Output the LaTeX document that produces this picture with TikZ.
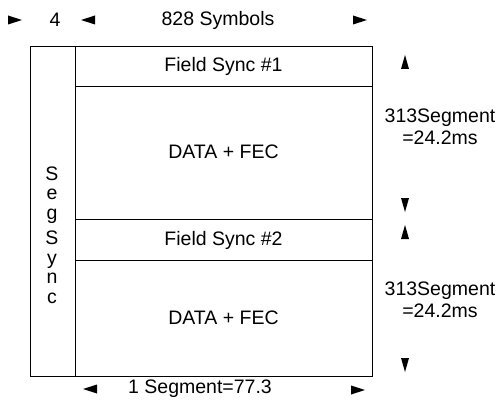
\documentclass[tikz,border=0pt]{standalone}
\usepackage{fontspec}
\setmainfont{Liberation Sans}
\begin{document}
\begin{tikzpicture}[x=1pt,y=-1pt,
  lbl/.style={inner sep=0pt,font=\fontsize{19.5}{22}\selectfont},
  frame/.style={line width=0.9pt},
  rtri/.pic={\fill (-7,-4.5) -- (7,0) -- (-7,4.5) -- cycle;},
  ltri/.pic={\fill (7,-4.5) -- (-7,0) -- (7,4.5) -- cycle;},
  utri/.pic={\fill (-4,7) -- (0,-7) -- (4,7) -- cycle;},
  dtri/.pic={\fill (-4,-7) -- (0,7) -- (4,-7) -- cycle;}]
\useasboundingbox (0,0) rectangle (500,401);
% frame
\draw[frame] (30,46) rectangle (372,376);
\draw[frame] (75,46) -- (75,376);
\draw[frame] (75,86) -- (372,86);
\draw[frame] (75,219) -- (372,219);
\draw[frame] (75,260) -- (372,260);
% inner labels
\node[lbl] (fs1) at (223.5,66) {Field Sync \#1};
\node[lbl] (d1) at (223.5,152) {DATA + FEC};
\node[lbl] (fs2) at (223.5,240) {Field Sync \#2};
\node[lbl] (d2) at (223.5,318) {DATA + FEC};
% seg sync (vertical text)
\node[lbl,align=center,font=\fontsize{19.5}{19.5}\selectfont] (segsync) at (52,235)
  {S\\e\\g\\[6pt]S\\y\\n\\c};
% top
\pic at (15,20) {rtri};
\node[lbl] (four) at (55,20) {4};
\pic at (88,20) {ltri};
\node[lbl] (sym) at (218,20) {828 Symbols};
\pic at (360,20) {rtri};
% right
\pic at (405,62) {utri};
\node[lbl,align=center] (seg1) at (440,127) {313Segment\\=24.2ms};
\pic at (405,205) {dtri};
\pic at (405,232) {utri};
\node[lbl,align=center] (seg2) at (440,300) {313Segment\\=24.2ms};
\pic at (405,365) {dtri};
% bottom
\pic at (90,389) {ltri};
\node[lbl] (bot) at (200,389) {1 Segment=77.3};
\pic at (358,390) {rtri};
\end{tikzpicture}
\end{document}
